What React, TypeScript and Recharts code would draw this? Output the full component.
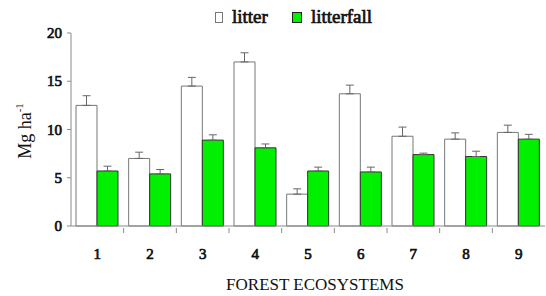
import { BarChart, Bar, XAxis, YAxis, ErrorBar } from "recharts";

const ecosystems = ["1", "2", "3", "4", "5", "6", "7", "8", "9"];
const litter = [12.5, 7.0, 14.5, 17.0, 3.3, 13.7, 9.3, 9.0, 9.7];
const litterErr = [1.0, 0.65, 0.9, 0.95, 0.55, 0.9, 0.95, 0.65, 0.75];
const litterfall = [5.7, 5.4, 8.9, 8.1, 5.7, 5.6, 7.4, 7.2, 9.0];
const litterfallErr = [0.5, 0.45, 0.55, 0.4, 0.4, 0.5, 0.15, 0.55, 0.5];
const yTicks = [0, 5, 10, 15, 20];

const data = ecosystems.map((name, i) => ({
  name,
  litter: litter[i],
  litterErr: [0, litterErr[i]],
  litterfall: litterfall[i],
  litterfallErr: [0, litterfallErr[i]],
}));

const W = 546;
const H = 296;
const margin = { top: 33, right: 1, left: 21, bottom: 35 };
const yAxisWidth = 50;
const axisColor = "#8a8a8a";
const green = "#00f000";
const serif = "Liberation Serif";

// the serif has no bold face here, so thicken it with a thin stroke
const boldText = { fontFamily: serif, stroke: "#111", strokeWidth: 0.7 };

const plotWidth = W - margin.left - margin.right - yAxisWidth;
const halfBand = plotWidth / ecosystems.length / 2;

const XTick = (props: any) => {
  const { x, y, payload, index } = props;
  return (
    <g>
      {index < ecosystems.length - 1 && (
        <line x1={x + halfBand} x2={x + halfBand} y1={y} y2={y + 5} stroke={axisColor} />
      )}
      <text x={x} y={y + 31} textAnchor="middle" style={boldText} fontSize={15} fill="#111">
        {payload.value}
      </text>
    </g>
  );
};

const YTick = (props: any) => {
  const { x, y, payload } = props;
  return (
    <text x={x - 1} y={y + 5} textAnchor="end" style={boldText} fontSize={15} fill="#111">
      {payload.value}
    </text>
  );
};

const YLabel = () => (
  <text
    transform="translate(31,131) rotate(-90)"
    textAnchor="middle"
    style={{ fontFamily: serif }}
    fontSize={18}
    fill="#111"
  >
    Mg ha<tspan fontSize={11} dy={-8}>-1</tspan>
  </text>
);

export default function App() {
  return (
    <div style={{ position: "absolute", left: 0, top: 0, width: W, height: H, background: "#fff" }}>
      <div
        style={{
          position: "absolute",
          top: 6,
          left: 215,
          display: "flex",
          alignItems: "center",
          fontFamily: serif,
          fontSize: 19,
          lineHeight: "22px",
          color: "#111",
          WebkitTextStroke: "0.7px #111",
          zIndex: 1,
        }}
      >
        <span style={{ width: 6, height: 9, border: "1px solid #777", background: "#fff", marginRight: 9 }} />
        <span style={{ marginRight: 24 }}>litter</span>
        <span style={{ width: 8, height: 9, border: "1.5px solid #222", background: green, marginRight: 9 }} />
        <span>litterfall</span>
      </div>
      <BarChart width={W} height={H} data={data} margin={margin} barCategoryGap={5} barGap={0}>
        <XAxis
          dataKey="name"
          stroke={axisColor}
          tickLine={false}
          tickSize={0}
          tick={<XTick />}
          height={35}
          interval={0}
          label={{
            value: "FOREST ECOSYSTEMS",
            position: "insideBottom",
            offset: -29,
            style: { fontFamily: serif },
            fontSize: 17,
            fill: "#111",
            dx: 7,
          }}
        />
        <YAxis
          domain={[0, 20]}
          ticks={yTicks}
          width={yAxisWidth}
          stroke={axisColor}
          tickSize={4}
          tickMargin={4}
          tick={<YTick />}
          label={<YLabel />}
        />
        <Bar dataKey="litter" fill="#fff" stroke="#777" strokeWidth={1} isAnimationActive={false}>
          <ErrorBar dataKey="litterErr" width={4} stroke="#666" strokeWidth={1} />
        </Bar>
        <Bar dataKey="litterfall" fill={green} stroke="#333" strokeWidth={1} isAnimationActive={false}>
          <ErrorBar dataKey="litterfallErr" width={4} stroke="#666" strokeWidth={1} />
        </Bar>
      </BarChart>
    </div>
  );
}
